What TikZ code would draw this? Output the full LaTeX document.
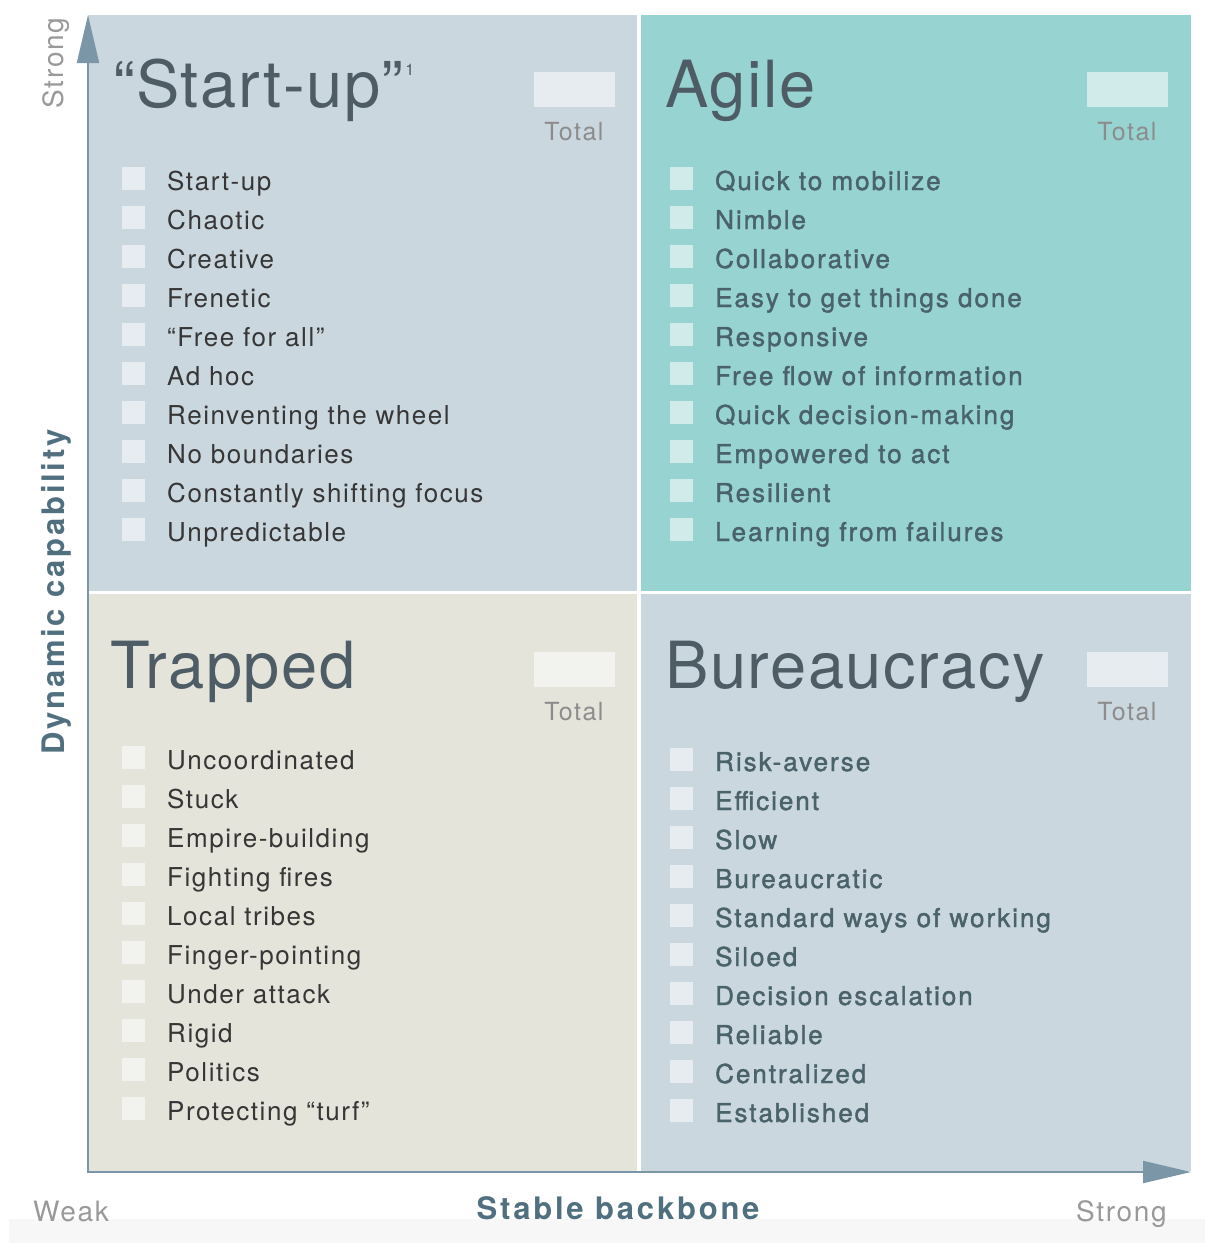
\documentclass[tikz,border=0pt]{standalone}
\usepackage{fontspec}
\setmainfont{TeX Gyre Heros}
\newfontfamily\itemfont[LetterSpace=6]{TeX Gyre Heros}
\newfontfamily\itemfontmed[LetterSpace=7.6,FakeBold=1.5]{TeX Gyre Heros}
\newfontfamily\axisfont[LetterSpace=9]{TeX Gyre Heros}
\newfontfamily\titlefont[LetterSpace=2.4]{TeX Gyre Heros}
\usetikzlibrary{arrows.meta}
\definecolor{quadblue}{HTML}{CBD7DF}
\definecolor{quadteal}{HTML}{97D3D1}
\definecolor{quadsand}{HTML}{E4E4DA}
\definecolor{axisblue}{HTML}{7B96A7}
\definecolor{axistext}{HTML}{507080}
\definecolor{titlegray}{HTML}{4E5C66}
\definecolor{itemdark}{HTML}{363636}
\definecolor{itemteal}{HTML}{4A626A}
\definecolor{softgray}{HTML}{8C8C8C}
\definecolor{stripgray}{HTML}{F7F7F7}
\begin{document}
\begin{tikzpicture}[x=1pt,y=-1pt,
chk/.style={fill=white,fill opacity=0.55,minimum size=23pt,inner sep=0pt,label distance=22pt},
item/.style={anchor=base west,inner sep=0pt,text height=28pt,text depth=5pt,font=\itemfont\fontsize{26}{26}\selectfont,text=itemdark,label={[chk]left:{}}},
itemb/.style={item,font=\itemfontmed\fontsize{26}{26}\selectfont,text=itemteal},
title/.style={anchor=base west,inner sep=0pt,font=\titlefont\fontsize{65}{65}\selectfont,text=titlegray},
totbox/.style={fill=white,fill opacity=0.55,minimum width=81pt,minimum height=35pt,inner sep=0pt},
total/.style={anchor=base,inner sep=0pt,font=\itemfont\fontsize{25}{25}\selectfont,text=softgray},
axis/.style={draw=axisblue,line width=2pt,{Triangle[length=48pt,width=22pt]}-{Triangle[length=48pt,width=22pt]}},
axislabel/.style={inner sep=0pt,font=\axisfont\bfseries\fontsize{31}{31}\selectfont,text=axistext},
endlabel/.style={inner sep=0pt,font=\itemfont\fontsize{28}{28}\selectfont,text=gray!80}
]
\useasboundingbox (0,0) rectangle (1205,1243);
\fill[stripgray] (9,1219) rectangle (1205,1243);
\fill[quadblue] (88,15) rectangle (637,591);
\fill[quadteal] (641,15) rectangle (1191,591);
\fill[quadsand] (88,594) rectangle (637,1171);
\fill[quadblue] (641,594) rectangle (1191,1171);
\coordinate (ytip) at (88,15);
\coordinate (xtip) at (1191,1172);
\draw[axis] (ytip) |- (xtip);
\node[endlabel,anchor=base,rotate=90] (ystrong) at (63,63) {Strong};
\node[axislabel,anchor=base,rotate=90] (ylab) at (64,592) {Dynamic capability};
\node[endlabel,anchor=base west] (xweak) at (33,1221) {Weak};
\node[axislabel,anchor=base] (xlab) at (618,1219) {Stable backbone};
\node[endlabel,anchor=base east] (xstrong) at (1167,1221) {Strong};
\node[title] (tstart) at (113,107) {“Start-up”\kern2pt\raisebox{32pt}{\fontsize{16}{16}\selectfont 1}};
\node[title] (tagile) at (665,107) {Agile};
\node[title] (ttrap) at (110,688) {Trapped};
\node[title] (tbur) at (665,688) {Bureaucracy};
\node[totbox] (box1) at (574,89.5) {};
\node[total] at (574,140) {Total};
\node[totbox] (box2) at (1127,89.5) {};
\node[total] at (1127,140) {Total};
\node[totbox] (box3) at (574,669) {};
\node[total] at (574,720) {Total};
\node[totbox] (box4) at (1127,669) {};
\node[total] at (1127,720) {Total};
\node[item] (s1) at (167,190) {Start-up};
\node[item] (s2) at (167,229) {Chaotic};
\node[item] (s3) at (167,268) {Creative};
\node[item] (s4) at (167,307) {Frenetic};
\node[item] (s5) at (167,346) {“Free for all”};
\node[item] (s6) at (167,385) {Ad hoc};
\node[item] (s7) at (167,424) {Reinventing the wheel};
\node[item] (s8) at (167,463) {No boundaries};
\node[item] (s9) at (167,502) {Constantly shifting focus};
\node[item] (s10) at (167,541) {Unpredictable};
\node[itemb] (a1) at (715,190) {Quick to mobilize};
\node[itemb] (a2) at (715,229) {Nimble};
\node[itemb] (a3) at (715,268) {Collaborative};
\node[itemb] (a4) at (715,307) {Easy to get things done};
\node[itemb] (a5) at (715,346) {Responsive};
\node[itemb] (a6) at (715,385) {Free flow of information};
\node[itemb] (a7) at (715,424) {Quick decision-making};
\node[itemb] (a8) at (715,463) {Empowered to act};
\node[itemb] (a9) at (715,502) {Resilient};
\node[itemb] (a10) at (715,541) {Learning from failures};
\node[item] (t1) at (167,769) {Uncoordinated};
\node[item] (t2) at (167,808) {Stuck};
\node[item] (t3) at (167,847) {Empire-building};
\node[item] (t4) at (167,886) {Fighting fires};
\node[item] (t5) at (167,925) {Local tribes};
\node[item] (t6) at (167,964) {Finger-pointing};
\node[item] (t7) at (167,1003) {Under attack};
\node[item] (t8) at (167,1042) {Rigid};
\node[item] (t9) at (167,1081) {Politics};
\node[item] (t10) at (167,1120) {Protecting “turf”};
\node[itemb] (b1) at (715,771) {Risk-averse};
\node[itemb] (b2) at (715,810) {Efficient};
\node[itemb] (b3) at (715,849) {Slow};
\node[itemb] (b4) at (715,888) {Bureaucratic};
\node[itemb] (b5) at (715,927) {Standard ways of working};
\node[itemb] (b6) at (715,966) {Siloed};
\node[itemb] (b7) at (715,1005) {Decision escalation};
\node[itemb] (b8) at (715,1044) {Reliable};
\node[itemb] (b9) at (715,1083) {Centralized};
\node[itemb] (b10) at (715,1122) {Established};
\end{tikzpicture}
\end{document}
